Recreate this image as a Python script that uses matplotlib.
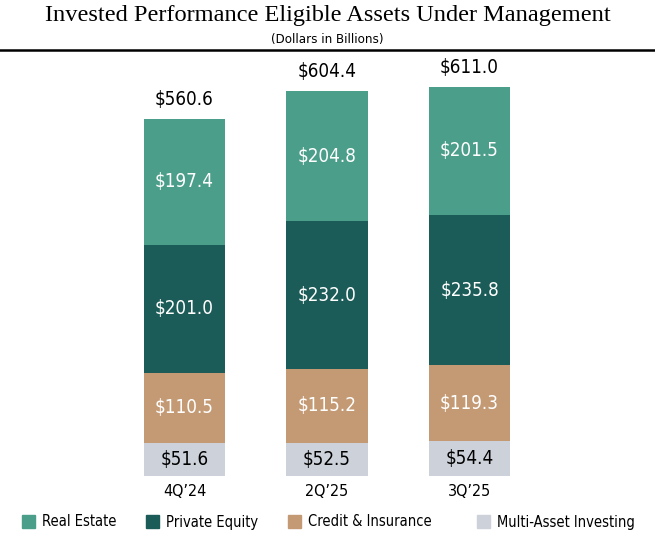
import matplotlib.pyplot as plt
from matplotlib.patches import Patch

# dati del grafico (miliardi di dollari)
periodi = ['4Q\u201924', '2Q\u201925', '3Q\u201925']
multi_asset = [51.6, 52.5, 54.4]
credit = [110.5, 115.2, 119.3]
private_equity = [201.0, 232.0, 235.8]
real_estate = [197.4, 204.8, 201.5]
totali = [560.6, 604.4, 611.0]

serie = ['Real Estate', 'Private Equity', 'Credit & Insurance', 'Multi-Asset Investing']
colori = {'Real Estate': '#4b9e8a', 'Private Equity': '#1b5b58',
          'Credit & Insurance': '#c49a74', 'Multi-Asset Investing': '#cdd1d9'}

plt.rcParams['font.family'] = ['DejaVu Sans']
plt.rcParams['font.stretch'] = 'condensed'

fig = plt.figure(figsize=(6.55, 5.38), dpi=100)
ax = fig.add_axes([0, 62 / 538, 1, 426 / 538])

x = list(range(len(periodi)))
larghezza = 0.57

# pile dal basso verso l'alto
pile = [('Multi-Asset Investing', multi_asset, 'black'),
        ('Credit & Insurance', credit, 'white'),
        ('Private Equity', private_equity, 'white'),
        ('Real Estate', real_estate, 'white')]
base = [0, 0, 0]
for nome, valori, col_testo in pile:
    barre = ax.bar(x, valori, larghezza, bottom=base, color=colori[nome], linewidth=0)
    for b, v in zip(barre, valori):
        ax.text(b.get_x() + b.get_width() / 2, b.get_y() + b.get_height() / 2,
                f'${v:.1f}', ha='center', va='center', color=col_testo, fontsize=13.5)
    base = [a + v for a, v in zip(base, valori)]

# totali sopra le barre
for i, t in enumerate(totali):
    ax.annotate(f'${t:.1f}', (x[i], base[i]), xytext=(0, 7), textcoords='offset points',
                ha='center', va='bottom', fontsize=13.5)

ax.set_xlim(-184.5 / 142.5, (655 - 184.5) / 142.5)
ax.set_ylim(0, 426 / 0.637)
ax.set_xticks(x)
ax.set_xticklabels(periodi, fontsize=11.5)
ax.tick_params(axis='x', length=0, pad=6)
ax.set_yticks([])
for s in ax.spines.values():
    s.set_visible(False)

# titolo e sottotitolo
fig.text(0.5, 1 - 16 / 538, 'Invested Performance Eligible Assets Under Management',
         ha='center', va='center', fontsize=17.6, family=['Liberation Serif', 'DejaVu Serif'],
         stretch='normal')
fig.text(0.5, 1 - 39 / 538, '(Dollars in Billions)', ha='center', va='center', fontsize=9.5)
fig.add_artist(plt.Line2D([0, 1], [1 - 50 / 538, 1 - 50 / 538], color='black', linewidth=1.8))

# legenda, una voce alla volta
pos_leg = [16, 140, 282, 471]
for nome, px in zip(serie, pos_leg):
    leg = fig.legend(handles=[Patch(color=colori[nome], label=nome)], loc='center left',
                     bbox_to_anchor=(px / 655, 1 - 522 / 538), frameon=False, fontsize=10.5,
                     handlelength=0.9, handleheight=0.9, handletextpad=0.5, borderaxespad=0)

fig.savefig('out.png', dpi=100)
